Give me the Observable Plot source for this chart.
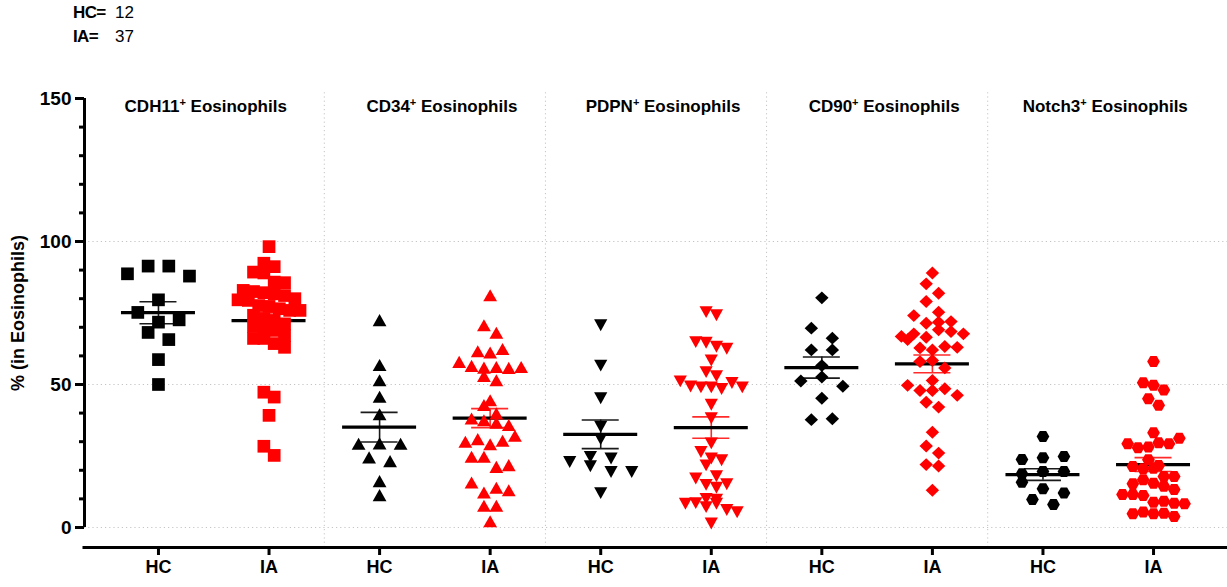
<!DOCTYPE html>
<html><head><meta charset="utf-8">
<script src="https://cdn.jsdelivr.net/npm/d3@7"></script>
<script src="https://cdn.jsdelivr.net/npm/@observablehq/plot@0.6"></script>
<style>
body{margin:0;background:#fff;font-family:"Liberation Sans",Arial,sans-serif;}
#wrap{position:relative;width:1227px;height:587px;overflow:hidden;}
#chart{position:absolute;left:0;top:0;}
.n{position:absolute;font-size:17px;line-height:19px;color:#000;white-space:nowrap;}
.b{font-weight:bold;letter-spacing:-0.6px;}
#chart g[aria-label="y-axis tick label"] text{font-size:19px;}
#chart g[aria-label="x-axis tick label"] text{font-size:18px;}
</style></head><body>
<div id="wrap">
<div id="chart"></div>
<span class="n b" style="left:73px;top:3px">HC=</span><span class="n" id="nhc" style="left:115px;top:3px"></span>
<span class="n b" style="left:73px;top:27px">IA=</span><span class="n" id="nia" style="left:115px;top:27px"></span>
</div>
<script>
// ---------- data ----------
const panels = ["CDH11", "CD34", "PDPN", "CD90", "Notch3"];
const groups = ["HC", "IA"];
const groupCounts = [12, 37];
const yTicks = [0, 50, 100, 150];
const yLabel = "% (in Eosinophils)";
const titleSuffix = " Eosinophils";

const cdh11HC = [88.7, 91.4, 91.4, 87.9, 79.6, 75.2, 71.8, 72.6, 68.2, 65.7, 58.7, 50.0];
const cdh11IA = [98.2, 92.4, 91.2, 89.3, 89.0, 85.8, 85.6, 82.9, 82.5, 82.1, 81.7, 81.1, 80.0, 79.6, 79.4, 77.6, 77.3, 76.5, 75.9, 75.9, 74.2, 73.0, 72.4, 71.2, 70.3, 68.9, 68.9, 67.1, 66.1, 66.1, 64.3, 63.0, 47.3, 45.6, 39.2, 28.4, 25.2];
const cd34HC = [71.8, 56.1, 50.8, 45.0, 38.9, 28.6, 28.7, 28.6, 23.8, 22.5, 15.5, 10.6];
const cd34IA = [80.5, 70.0, 67.4, 60.9, 60.5, 61.7, 57.2, 55.8, 55.2, 55.4, 55.1, 55.4, 52.3, 50.8, 42.1, 43.8, 39.2, 37.4, 36.8, 35.9, 35.1, 29.3, 30.2, 28.4, 29.6, 31.4, 24.0, 24.0, 20.5, 21.1, 15.0, 11.5, 13.2, 12.3, 6.9, 6.9, 1.5];
const pdpnHC = [71.4, 57.3, 45.9, 35.9, 31.6, 23.6, 25.4, 24.8, 22.1, 20.1, 20.1, 12.7];
const pdpnIA = [76.0, 74.9, 65.5, 65.3, 63.9, 63.2, 59.1, 55.0, 53.6, 51.8, 50.0, 49.7, 49.7, 49.1, 51.2, 49.7, 43.6, 38.9, 30.1, 27.1, 24.8, 24.2, 22.4, 18.6, 17.8, 15.6, 14.6, 15.8, 10.7, 9.0, 9.2, 10.4, 7.8, 9.0, 6.8, 6.0, 2.1];
const cd90HC = [80.3, 69.7, 66.2, 62.1, 62.1, 56.6, 51.2, 52.6, 49.4, 45.2, 37.7, 38.0];
const cd90IA = [89.0, 85.2, 81.9, 79.0, 75.3, 74.1, 71.4, 71.8, 72.0, 66.8, 67.7, 66.5, 69.1, 68.5, 67.7, 65.7, 62.8, 62.1, 63.3, 63.0, 58.0, 58.4, 55.8, 51.4, 49.7, 47.9, 47.9, 48.5, 46.2, 43.8, 42.1, 33.3, 28.5, 26.0, 22.0, 21.5, 13.0];
const notch3HC = [31.8, 23.8, 24.4, 24.8, 18.8, 19.6, 19.6, 15.8, 13.5, 12.1, 9.8, 8.0];
const notch3IA = [58.0, 50.6, 49.7, 48.1, 45.0, 42.7, 33.1, 29.3, 27.9, 28.1, 29.6, 29.3, 31.2, 23.7, 21.3, 20.5, 21.7, 20.7, 17.8, 15.3, 16.7, 17.8, 15.5, 14.4, 13.3, 11.5, 11.5, 11.2, 8.8, 9.2, 8.5, 8.3, 4.8, 5.4, 4.8, 5.0, 3.8];

const series = [[cdh11HC, cdh11IA], [cd34HC, cd34IA], [pdpnHC, pdpnIA], [cd90HC, cd90IA], [notch3HC, notch3IA]];

// ---------- layout / style ----------
const W = 1227, H = 587, mL = 84, mR = 0, mT = 98, mB = 40;
const xDomain = [-0.669, 9.669];
const yDomain = [-7, 150];
const pxX = (W - mL - mR) / (xDomain[1] - xDomain[0]);
const pxY = (H - mT - mB) / (yDomain[1] - yDomain[0]);
const fills = ["#000000", "#ff0000"];
const errStroke = ["#1a1a1a", "#ff2a2a"];

// custom symbols (size = r^2*PI as passed by Plot)
const rad = s => Math.sqrt(s / Math.PI);
const symSquare = {draw(c, s) { const r = rad(s); c.rect(-r, -r, 2 * r, 2 * r); }};
const symTriUp = {draw(c, s) { const r = rad(s), h = 1.75 * r; c.moveTo(0, -2 * h / 3); c.lineTo(r, h / 3); c.lineTo(-r, h / 3); c.closePath(); }};
const symTriDown = {draw(c, s) { const r = rad(s), h = 1.8 * r; c.moveTo(0, 2 * h / 3); c.lineTo(r, -h / 3); c.lineTo(-r, -h / 3); c.closePath(); }};
const symDiamond = {draw(c, s) { const r = rad(s); c.moveTo(0, -r * 0.96); c.lineTo(r, 0); c.lineTo(0, r * 0.96); c.lineTo(-r, 0); c.closePath(); }};
const symHex = {draw(c, s) { const r = rad(s); for (let k = 0; k < 6; k++) { const a = k * Math.PI / 3; const px = r * Math.cos(a), py = r * Math.sin(a); k ? c.lineTo(px, py) : c.moveTo(px, py); } c.closePath(); }};
const panelSymbols = [symSquare, symTriUp, symTriDown, symDiamond, symHex];
const panelR = [6.35, 6.9, 6.6, 6.7, 6.35];

// column-scatter layout: group values into rows, spread each row centered
function swarm(values, rowH = 11, maxW = 62, maxS = 21) {
  const order = d3.range(values.length).sort((a, b) => values[a] - values[b] || a - b);
  const rows = [];
  let cur = null;
  for (const i of order) {
    if (!cur || (values[i] - values[cur[0]]) * pxY >= rowH) { cur = [i]; rows.push(cur); }
    else cur.push(i);
  }
  const maxN = d3.max(rows, r => r.length);
  const s = maxN > 1 ? Math.min(maxS, maxW / (maxN - 1)) : 0;
  const off = new Array(values.length);
  for (const r of rows) { r.sort((a, b) => a - b); r.forEach((i, j) => off[i] = (j - (r.length - 1) / 2) * s); }
  return off;
}

const points = [];
const stats = [];
series.forEach((pair, p) => {
  pair.forEach((vals, g) => {
    const xc = 2 * p + g;
    const off = swarm(vals);
    vals.forEach((v, i) => points.push({panel: p, group: g, value: v, x: xc + off[i] / pxX, fill: fills[g]}));
    const mean = d3.mean(vals), sem = d3.deviation(vals) / Math.sqrt(vals.length);
    stats.push({x: xc, mean, lo: mean - sem, hi: mean + sem, ec: errStroke[g]});
  });
});

const meanHalf = 37 / pxX, capHalf = 18.5 / pxX;
const minorTicks = d3.range(yTicks[0], yTicks[yTicks.length - 1] + 1, 10).filter(v => !yTicks.includes(v));
const separators = d3.range(1, panels.length).map(i => 2 * i - 0.5);
const gridDash = "1.2,3";
const titleText = d => d + "⁺" + titleSuffix;
const titleOpts = (dx) => ({x: d => 2 * panels.indexOf(d) + 0.5, y: yTicks[yTicks.length - 1], dy: 8, dx, text: titleText, fontSize: 17, textAnchor: "middle"});

const marks = [
  Plot.ruleY(yTicks.slice(0, -1), {stroke: "#c4c4c4", strokeDasharray: gridDash, strokeWidth: 1}),
  Plot.ruleX(separators, {y1: yDomain[0], y2: 152, stroke: "#c4c4c4", strokeDasharray: gridDash, strokeWidth: 1}),
  Plot.ruleX(stats, {x: "x", y1: "lo", y2: "hi", stroke: "ec", strokeWidth: 1.6}),
  Plot.ruleY(stats, {y: "hi", x1: d => d.x - capHalf, x2: d => d.x + capHalf, stroke: "ec", strokeWidth: 1.6}),
  Plot.ruleY(stats, {y: "lo", x1: d => d.x - capHalf, x2: d => d.x + capHalf, stroke: "ec", strokeWidth: 1.6}),
  Plot.ruleY(stats, {y: "mean", x1: d => d.x - meanHalf, x2: d => d.x + meanHalf, stroke: "#000", strokeWidth: 3.2}),
  ...panels.map((name, p) => Plot.dot(points.filter(d => d.panel === p), {
    x: "x", y: "value", r: panelR[p], symbol: panelSymbols[p], fill: "fill", stroke: "none"
  })),
  // axes
  Plot.ruleX([xDomain[0]], {y1: 0, y2: yTicks[yTicks.length - 1], stroke: "#000", strokeWidth: 3}),
  Plot.ruleY([yDomain[0]], {x1: xDomain[0] - 1.5 / pxX, x2: xDomain[1], stroke: "#000", strokeWidth: 3}),
  Plot.axisY({ticks: yTicks, tickSize: 9, tickPadding: 4, strokeWidth: 3, label: null, fontSize: 19}),
  Plot.axisY({ticks: minorTicks, tickSize: 5, strokeWidth: 3, label: null, tickFormat: () => ""}),
  Plot.axisX({ticks: d3.range(panels.length * 2), tickFormat: i => groups[i % 2], tickSize: 8, tickPadding: 5, strokeWidth: 3, label: null, fontSize: 18}),
  Plot.text(panels.slice(0, 1), titleOpts(-8)),
  Plot.text(panels.slice(1), titleOpts(7)),
  Plot.text([yLabel], {x: xDomain[0] - 66 / pxX, y: (yTicks[0] + yTicks[yTicks.length - 1]) / 2, text: d => d, rotate: -90, fontSize: 18, textAnchor: "middle"})
];

const chart = Plot.plot({
  width: W, height: H,
  marginLeft: mL, marginRight: mR, marginTop: mT, marginBottom: mB,
  x: {type: "linear", domain: xDomain},
  y: {type: "linear", domain: yDomain},
  color: {type: "identity"},
  style: {fontFamily: "'Liberation Sans', Arial, sans-serif", fontWeight: "bold", fontSize: "17px", color: "#000", background: "#fff", overflow: "visible"},
  marks
});

// superscript "+" in panel titles
const NS = "http://www.w3.org/2000/svg";
chart.querySelectorAll("text").forEach(t => {
  const s = t.textContent;
  if (s.includes("⁺") && !t.querySelector("tspan")) {
    const [a, b] = s.split("⁺");
    t.textContent = "";
    const t1 = document.createElementNS(NS, "tspan"); t1.textContent = a;
    const t2 = document.createElementNS(NS, "tspan"); t2.textContent = "+"; t2.setAttribute("dy", "-6"); t2.setAttribute("font-size", "11");
    const t3 = document.createElementNS(NS, "tspan"); t3.textContent = b; t3.setAttribute("dy", "6");
    t.append(t1, t2, t3);
  }
});

document.getElementById("chart").appendChild(chart);
document.getElementById("nhc").textContent = groupCounts[0];
document.getElementById("nia").textContent = groupCounts[1];
</script>
</body></html>
